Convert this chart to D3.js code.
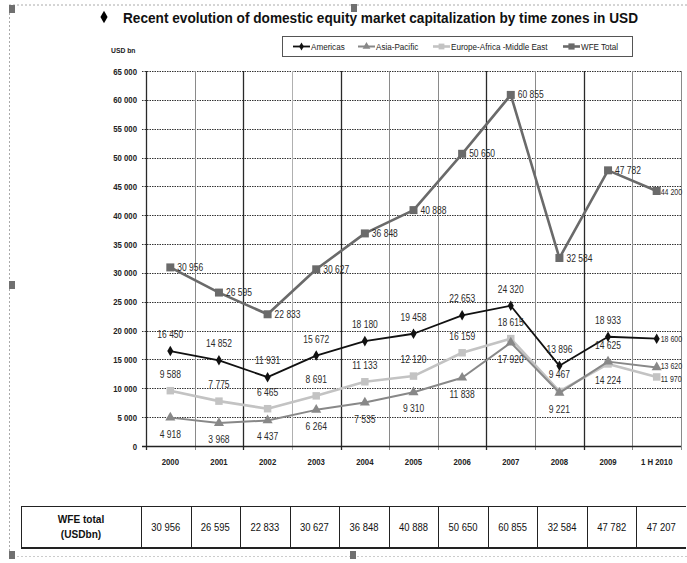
<!DOCTYPE html>
<html>
<head>
<meta charset="utf-8">
<script src="https://cdn.jsdelivr.net/npm/d3@7"></script>
<style>
  html, body { margin: 0; padding: 0; background: #fff; }
  svg { display: block; font-family: "Liberation Sans", Arial, sans-serif; }
</style>
</head>
<body>
<svg id="chart" width="687" height="563"></svg>
<script>
// Domestic equity market capitalization, USD bn
const years = ["2000", "2001", "2002", "2003", "2004", "2005", "2006", "2007", "2008", "2009", "1 H 2010"];
const americas = [16450, 14852, 11931, 15672, 18180, 19458, 22653, 24320, 13896, 18933, 18600];
const asiaPacific = [4918, 3968, 4437, 6264, 7535, 9310, 11838, 17920, 9221, 14625, 13620];
const europeAfricaMiddleEast = [9588, 7775, 6465, 8691, 11133, 12120, 16159, 18615, 9467, 14224, 11970];
const wfeTotal = [30956, 26595, 22833, 30627, 36848, 40888, 50650, 60855, 32584, 47782, 44200];
const wfeTableValues = [30956, 26595, 22833, 30627, 36848, 40888, 50650, 60855, 32584, 47782, 47207];
const yTickValues = [0, 5000, 10000, 15000, 20000, 25000, 30000, 35000, 40000, 45000, 50000, 55000, 60000, 65000];
const seriesNames = ["Americas", "Asia-Pacific", "Europe-Africa -Middle East", "WFE Total"];
const titleText = "Recent evolution of domestic equity market capitalization by time zones in USD";
const tableHeader = ["WFE total", "(USDbn)"];

const fmt = d3.formatLocale({ decimal: ".", thousands: " ", grouping: [3], currency: ["", ""] }).format(",");

// narrow a text horizontally around its anchor point
function squeeze(sel, f) {
  sel.each(function () {
    const t = d3.select(this);
    const tx = +t.attr("x") || 0, ty = +t.attr("y") || 0;
    t.attr("x", 0).attr("y", 0).attr("transform", `translate(${tx},${ty}) scale(${f},1)`);
  });
}

const svg = d3.select("#chart");

// page frame: dashed guide lines and small handles
const frame = svg.append("g");
frame.append("line").attr("x1", 9).attr("x2", 687).attr("y1", 5).attr("y2", 5)
  .attr("stroke", "#aaa").attr("stroke-dasharray", "2,2");
frame.append("line").attr("x1", 9.5).attr("x2", 9.5).attr("y1", 5).attr("y2", 556)
  .attr("stroke", "#aaa").attr("stroke-dasharray", "2,2");
frame.append("line").attr("x1", 9).attr("x2", 687).attr("y1", 556.5).attr("y2", 556.5)
  .attr("stroke", "#ccc").attr("stroke-dasharray", "2,2");
[[9, 5], [351, 4], [9, 281], [9, 551], [350, 551]].forEach(([hx, hy]) => {
  frame.append("rect").attr("x", hx).attr("y", hy).attr("width", 6).attr("height", 8).attr("fill", "#707070");
});

// title
svg.append("path").attr("d", d3.symbol(d3.symbolDiamond, 44)())
  .attr("transform", "translate(104,17)").attr("fill", "#000");
svg.append("text").attr("x", 123).attr("y", 23)
  .attr("font-size", 14.5).attr("font-weight", "bold").attr("fill", "#111")
  .attr("textLength", 515).attr("lengthAdjust", "spacingAndGlyphs")
  .text(titleText);

svg.append("text").attr("x", 111).attr("y", 53).attr("font-size", 8).attr("font-weight", "bold")
  .attr("fill", "#222").call(squeeze, 0.85).text("USD bn");

// plot area
const plotLeft = 146, plotRight = 681, plotTop = 71, plotBottom = 446;
const x = d3.scaleBand().domain(years).range([plotLeft, plotRight]).padding(0);
const y = d3.scaleLinear().domain([0, 65000]).range([plotBottom, plotTop]);
const cx = d => x(d) + x.bandwidth() / 2;

// horizontal dotted grid
const grid = svg.append("g");
grid.selectAll("line.h").data(yTickValues.filter(v => v > 0)).join("line")
  .attr("x1", plotLeft - 4).attr("x2", plotRight)
  .attr("y1", d => Math.round(y(d)) + 0.5).attr("y2", d => Math.round(y(d)) + 0.5)
  .attr("stroke", "#333").attr("stroke-width", 1).attr("stroke-dasharray", "1.5,1");

// vertical category boundaries
const boundaries = years.map(d => x(d)).concat([plotRight]);
const darkIdx = new Set([0, 2, 4, 7, 9]);
grid.selectAll("line.v").data(boundaries).join("line")
  .attr("x1", d => Math.round(d) + 0.5).attr("x2", d => Math.round(d) + 0.5)
  .attr("y1", plotTop).attr("y2", plotBottom + 4)
  .attr("stroke", (d, i) => darkIdx.has(i) ? "#2a2a2a" : (i === 3 ? "#b0b0b0" : "#8a8a8a"))
  .attr("stroke-width", (d, i) => darkIdx.has(i) ? 1.3 : 1);

// base line
svg.append("line").attr("x1", plotLeft - 4).attr("x2", plotRight).attr("y1", plotBottom + 0.5).attr("y2", plotBottom + 0.5)
  .attr("stroke", "#222").attr("stroke-width", 1.5);

// axes labels
const yAxis = d3.axisLeft(y).tickValues(yTickValues).tickFormat(fmt).tickSize(0).tickPadding(9);
const gy = svg.append("g").attr("transform", `translate(${plotLeft},0)`).call(yAxis);
gy.select(".domain").remove();
gy.selectAll("text").attr("font-size", 9.5).attr("font-weight", "bold").attr("fill", "#222")
  .attr("font-family", "Liberation Sans, Arial, sans-serif").call(squeeze, 0.82);

const xAxis = d3.axisBottom(x).tickSize(0).tickPadding(12);
const gx = svg.append("g").attr("transform", `translate(0,${plotBottom})`).call(xAxis);
gx.select(".domain").remove();
gx.selectAll("text").attr("font-size", 9.5).attr("font-weight", "bold").attr("fill", "#222")
  .attr("font-family", "Liberation Sans, Arial, sans-serif").call(squeeze, 0.82);

// series
const series = [
  { name: seriesNames[3], values: wfeTotal, color: "#6a6a6a", width: 2.6, symbol: d3.symbolSquare, size: 64, labelPos: () => "right", endShift: 0 },
  { name: seriesNames[2], values: europeAfricaMiddleEast, color: "#c3c3c3", width: 2.6, symbol: d3.symbolSquare, size: 56,
    labelPos: i => i === years.length - 1 ? "right" : (europeAfricaMiddleEast[i] < asiaPacific[i] ? "below" : "above"), endShift: 1.5 },
  { name: seriesNames[1], values: asiaPacific, color: "#888", width: 2, symbol: d3.symbolTriangle, size: 44,
    labelPos: i => i === years.length - 1 ? "right" : (asiaPacific[i] > europeAfricaMiddleEast[i] ? "above" : "below"), endShift: -1.5 },
  { name: seriesNames[0], values: americas, color: "#111", width: 1.8, symbol: d3.symbolDiamond, size: 32,
    labelPos: i => i === years.length - 1 ? "right" : "above", endShift: 0 }
];

const line = d3.line().x((d, i) => cx(years[i])).y(d => y(d));

series.forEach(s => {
  const g = svg.append("g");
  g.append("path").datum(s.values).attr("d", line)
    .attr("fill", "none").attr("stroke", s.color).attr("stroke-width", s.width).attr("stroke-linejoin", "round");
  g.selectAll("path.m").data(s.values).join("path")
    .attr("d", d3.symbol(s.symbol, s.size)())
    .attr("transform", (d, i) => `translate(${cx(years[i])},${y(d)})`)
    .attr("fill", s.color);
});

// value labels
series.forEach(s => {
  svg.append("g").selectAll("text").data(s.values).join("text")
    .each(function (d, i) {
      const pos = s.labelPos(i);
      const t = d3.select(this);
      const px = cx(years[i]), py = y(d);
      const last = i === years.length - 1;
      let tx, ty, anchor, f = 0.85, fs = 10;
      if (pos === "right") {
        tx = px + (last ? 4 : 7); ty = py + 3.5 + (last ? s.endShift : 0); anchor = "start";
        if (last) { f = 0.8; fs = 8.8; }
      } else if (pos === "above") {
        tx = px; ty = py - 13; anchor = "middle";
      } else {
        tx = px; ty = py + 20; anchor = "middle";
      }
      t.attr("text-anchor", anchor).attr("font-size", fs)
        .attr("transform", `translate(${tx},${ty}) scale(${f},1)`);
    })
    .attr("fill", "#2a2a2a")
    .text(d => fmt(d));
});

// legend
const legend = svg.append("g");
legend.append("rect").attr("x", 282.5).attr("y", 36.5).attr("width", 350).attr("height", 20)
  .attr("fill", "#fff").attr("stroke", "#555").attr("stroke-width", 1);
const legendDefs = [
  { s: series[3], x0: 293 },
  { s: series[2], x0: 358 },
  { s: series[1], x0: 433 },
  { s: series[0], x0: 563 }
];
legendDefs.forEach(({ s, x0 }) => {
  const g = legend.append("g");
  g.append("line").attr("x1", x0).attr("x2", x0 + 17).attr("y1", 46.5).attr("y2", 46.5)
    .attr("stroke", s.color).attr("stroke-width", s.width);
  g.append("path").attr("d", d3.symbol(s.symbol, s.size * 0.6)())
    .attr("transform", `translate(${x0 + 8.5},46.5)`).attr("fill", s.color);
  g.append("text").attr("x", x0 + 18).attr("y", 49.5).attr("font-size", 9).attr("fill", "#222")
    .call(squeeze, 0.9).text(s.name);
});

// WFE total table
const tTop = 506, tBottom = 548, tLeft = 21, tHeadRight = 141, tRight = 686;
const colX = d3.scaleBand().domain(years).range([tHeadRight, tRight]);
const table = svg.append("g");
table.append("line").attr("x1", tLeft).attr("x2", tRight).attr("y1", tTop + 0.5).attr("y2", tTop + 0.5)
  .attr("stroke", "#222");
table.append("line").attr("x1", tLeft).attr("x2", tRight).attr("y1", tBottom).attr("y2", tBottom)
  .attr("stroke", "#222").attr("stroke-width", 2);
const tCols = [tLeft, tHeadRight].concat(years.slice(1).map(d => colX(d)));
table.selectAll("line.c").data(tCols).join("line")
  .attr("x1", d => Math.round(d) + 0.5).attr("x2", d => Math.round(d) + 0.5)
  .attr("y1", tTop).attr("y2", tBottom).attr("stroke", "#222");
table.selectAll("text.h").data(tableHeader).join("text")
  .attr("x", (tLeft + tHeadRight) / 2).attr("y", (d, i) => 523 + i * 15)
  .attr("text-anchor", "middle").attr("font-size", 11).attr("font-weight", "bold").attr("fill", "#111")
  .text(d => d).call(squeeze, 0.92);
table.selectAll("text.v").data(wfeTableValues).join("text")
  .attr("x", (d, i) => colX(years[i]) + colX.bandwidth() / 2).attr("y", 531)
  .attr("text-anchor", "middle").attr("font-size", 11).attr("fill", "#111")
  .text(d => fmt(d)).call(squeeze, 0.86);
</script>
</body>
</html>
